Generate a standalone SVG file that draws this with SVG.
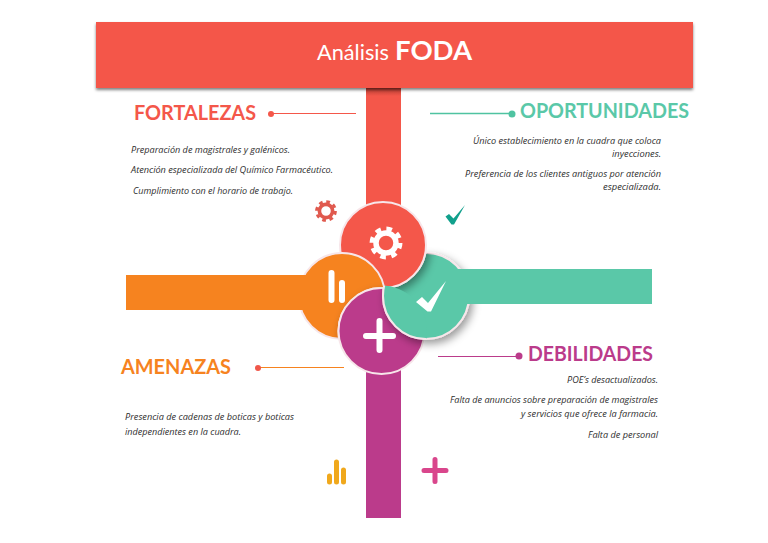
<svg xmlns="http://www.w3.org/2000/svg" xmlns:xlink="http://www.w3.org/1999/xlink" width="768" height="543" viewBox="0 0 768 543">
<style>
.h{font-family:"Lato","Liberation Sans",sans-serif;font-weight:700;font-size:20px}
.b{font-family:"Open Sans","Liberation Sans",sans-serif;font-style:italic;font-size:8.6px;fill:#2e2e2e}
.w{fill:none;stroke:#fff;stroke-linecap:round}
.ring{stroke:#f7e6ea;stroke-width:2}
</style>
<defs>
<filter id="sh" x="-30%" y="-30%" width="170%" height="170%"><feDropShadow dx="3" dy="4" stdDeviation="4" flood-color="#000" flood-opacity=".4"/></filter>
<filter id="ts" x="-5%" y="-10%" width="110%" height="130%"><feDropShadow dx="0" dy="2" stdDeviation="1.5" flood-color="#000" flood-opacity=".5"/></filter>
<linearGradient id="bs" x1="0" y1="0" x2="0" y2="1"><stop offset="0" stop-color="#b23a30"/><stop offset="1" stop-color="#f4574a"/></linearGradient>
<clipPath id="cTeal"><circle cx="426" cy="296" r="43"/></clipPath>
<clipPath id="cOrange"><circle cx="342" cy="296" r="43"/></clipPath>
<clipPath id="cMag"><circle cx="381.500" cy="331" r="44"/></clipPath>
<clipPath id="cMag2"><circle cx="381.500" cy="331" r="45.500"/></clipPath>
<circle id="cr" cx="383" cy="245" r="43" fill="#f4574a" class="ring"/>
<circle id="cm" cx="381.500" cy="331" r="43" fill="#bb3b8b" class="ring"/>
<circle id="ct" cx="426" cy="296" r="43" fill="#5ac8a8" class="ring"/>
<g id="gear"><circle r="10" fill="none" stroke="currentColor" stroke-width="5.500"/><circle r="14.200" fill="none" stroke="currentColor" stroke-width="4.500" stroke-dasharray="5.600 5.550"/></g>
</defs>
<rect width="768" height="543" fill="#fff"/>

<g id="spine">
<rect x="366" y="88" width="35" height="130" fill="#f4574a"/>
<rect x="366" y="88" width="35" height="8" fill="url(#bs)"/>
<rect x="366" y="340" width="35" height="178" fill="#bb3b8b"/>
</g>

<g id="title">
<rect x="96" y="22" width="597" height="66" fill="#f4574a" filter="url(#ts)"/>
<text x="317" y="60" font-family="Lato, 'Liberation Sans', sans-serif" font-size="22" fill="#fff" textLength="72" lengthAdjust="spacingAndGlyphs">Análisis</text>
<text x="395" y="60" font-family="Lato, 'Liberation Sans', sans-serif" font-size="27" font-weight="700" fill="#fff" textLength="77" lengthAdjust="spacingAndGlyphs">FODA</text>
</g>

<g id="connectors">
<g fill="none" stroke-width="1">
<path d="M271 113.500H356" stroke="#f4574a"/>
<path d="M430 113.500H512" stroke="#4fc3a1" stroke-width="1.500"/>
<path d="M438 356.500H519" stroke="#bb3b8b"/>
<path d="M258 367.500H344" stroke="#f6831f"/>
</g>
<circle cx="271" cy="114" r="3" fill="#f4574a"/>
<circle cx="512" cy="114" r="3.500" fill="#4fc3a1"/>
<circle cx="519" cy="356" r="3.500" fill="#bb3b8b"/>
<circle cx="258" cy="368" r="3" fill="#f0574a"/>
</g>

<g id="hub">
<use xlink:href="#ct" href="#ct" filter="url(#sh)"/>
<g clip-path="url(#cTeal)"><use xlink:href="#cr" href="#cr" filter="url(#sh)"/></g>
<use xlink:href="#cr" href="#cr"/>
<circle cx="342" cy="296" r="43" fill="#f6831f" class="ring"/>
<g clip-path="url(#cOrange)"><use xlink:href="#cm" href="#cm" filter="url(#sh)"/></g>
<use xlink:href="#cm" href="#cm"/>
<g clip-path="url(#cMag)"><use xlink:href="#ct" href="#ct" filter="url(#sh)"/></g>
<g clip-path="url(#cMag2)"><use xlink:href="#ct" href="#ct"/></g>
<rect x="126" y="275" width="186" height="35" fill="#f6831f"/>
<rect x="452" y="269" width="200" height="35" fill="#5ac8a8"/>
</g>

<g id="fortalezas">
<g transform="translate(386,243)" color="#fff"><use xlink:href="#gear" href="#gear"/></g>
<g transform="translate(326,211) scale(.66)" color="#e0594e"><use xlink:href="#gear" href="#gear"/></g>
<text class="h" x="134" y="120" fill="#f4574a" textLength="122" lengthAdjust="spacingAndGlyphs">FORTALEZAS</text>
<text class="b" x="131" y="153" textLength="159" lengthAdjust="spacingAndGlyphs">Preparación de magistrales y galénicos.</text>
<text class="b" x="131" y="173" textLength="202" lengthAdjust="spacingAndGlyphs">Atención especializada del Químico Farmacéutico.</text>
<text class="b" x="133" y="194" textLength="160" lengthAdjust="spacingAndGlyphs">Cumplimiento con el horario de trabajo.</text>
</g>

<g id="oportunidades">
<path d="M416 302L422 297L428 303L446 281L431 311.500L427.500 311.500Z" fill="#fff"/>
<path d="M445.500 216.500L449 214L453.500 218.500L465 205L454 224.500L451.500 224.500Z" fill="#11a08c"/>
<text class="h" x="520" y="118" fill="#5ac8a8" textLength="169" lengthAdjust="spacingAndGlyphs">OPORTUNIDADES</text>
<text class="b" x="473" y="144" textLength="188" lengthAdjust="spacingAndGlyphs">Único establecimiento en la cuadra que coloca</text>
<text class="b" x="612" y="157" textLength="49" lengthAdjust="spacingAndGlyphs">inyecciones.</text>
<text class="b" x="465" y="177" textLength="196" lengthAdjust="spacingAndGlyphs">Preferencia de los clientes antiguos por atención</text>
<text class="b" x="603" y="190" textLength="58" lengthAdjust="spacingAndGlyphs">especializada.</text>
</g>

<g id="amenazas">
<path class="w" d="M331.500 273V300M342 283V300" stroke-width="6"/>
<g fill="none" stroke="#f0a81c" stroke-width="5" stroke-linecap="round"><path d="M329.500 476V482M336.500 462V482M343.500 470V482"/></g>
<text class="h" x="121" y="374" fill="#f6831f" textLength="110" lengthAdjust="spacingAndGlyphs">AMENAZAS</text>
<text class="b" x="125" y="420" textLength="169" lengthAdjust="spacingAndGlyphs">Presencia de cadenas de boticas y boticas</text>
<text class="b" x="125" y="435" textLength="116" lengthAdjust="spacingAndGlyphs">independientes en la cuadra.</text>
</g>

<g id="debilidades">
<path class="w" d="M366 336H393M379.500 321V350" stroke-width="6"/>
<path d="M424 470.500H446M435 459.500V481.500" fill="none" stroke="#d9468c" stroke-width="5" stroke-linecap="round"/>
<text class="h" x="528" y="361" fill="#bb3b8b" textLength="125" lengthAdjust="spacingAndGlyphs">DEBILIDADES</text>
<text class="b" x="567" y="383" textLength="91" lengthAdjust="spacingAndGlyphs">POE’s desactualizados.</text>
<text class="b" x="450" y="403" textLength="208" lengthAdjust="spacingAndGlyphs">Falta de anuncios sobre preparación de magistrales</text>
<text class="b" x="521" y="417" textLength="137" lengthAdjust="spacingAndGlyphs">y servicios que ofrece la farmacia.</text>
<text class="b" x="588" y="438" textLength="70" lengthAdjust="spacingAndGlyphs">Falta de personal</text>
</g>
</svg>
